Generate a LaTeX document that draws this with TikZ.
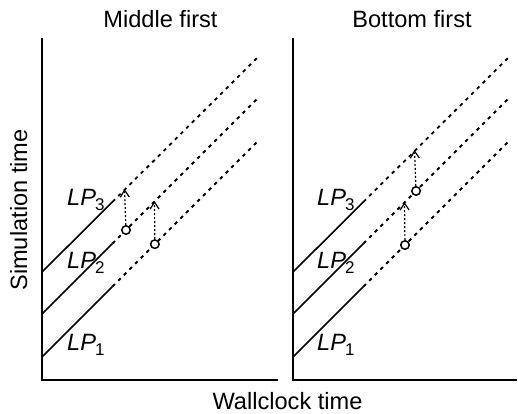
\documentclass[tikz,border=0pt]{standalone}
\usepackage{fontspec}
\setmainfont{Liberation Sans}
\usetikzlibrary{calc,arrows.meta}
\newcommand{\lpl}[1]{{\itshape LP}\kern-1pt\raisebox{-5pt}{\fontsize{17}{16}\selectfont #1}}
\begin{document}
\begin{tikzpicture}[x=1pt,y=-1pt,
  axis/.style={line width=1.3pt},
  solidlp/.style={line width=1.6pt},
  dashlp/.style={line width=1.8pt,dash pattern=on 3.5pt off 4.5pt},
  msg/.style={line width=1.2pt,dash pattern=on 2pt off 2pt,-{Straight Barb[length=7pt,width=9pt,line width=1.2pt]}},
  evt/.style={circle,draw,line width=1.5pt,inner sep=0pt,minimum size=8.5pt,fill=white},
  txt/.style={font=\fontsize{23.6}{28}\selectfont,inner sep=0pt},
  lab/.style={font=\fontsize{23.6}{28}\selectfont,inner sep=0pt,anchor=base west}]
\useasboundingbox (0,0) rectangle (518,413);
% axes
\coordinate (ltop) at (42,38); \coordinate (lorg) at (42,380); \coordinate (lright) at (278,380);
\coordinate (rtop) at (293,38); \coordinate (rorg) at (293,380); \coordinate (rright) at (517,380);
\draw[axis] (ltop) -- (lorg) -- (lright);
\draw[axis] (rtop) -- (rorg) -- (rright);
% left lines
\coordinate (a1) at (42,357); \coordinate (b1) at (259,140);
\coordinate (a2) at (42,314); \coordinate (b2) at (259,97);
\coordinate (a3) at (42,272); \coordinate (b3) at (259,56);
% right lines
\coordinate (c1) at (293,357); \coordinate (d1) at (510,140);
\coordinate (c2) at (293,314); \coordinate (d2) at (510,97);
\coordinate (c3) at (293,272); \coordinate (d3) at (510,56);
\foreach \i in {1,2,3}{
  \draw[solidlp] (a\i) -- ($(a\i)!0.325!(b\i)$) coordinate (m\i);
  \draw[dashlp] (m\i) -- (b\i);
  \draw[solidlp] (c\i) -- ($(c\i)!0.325!(d\i)$) coordinate (n\i);
  \draw[dashlp] (n\i) -- (d\i);
}
% events and messages, left (Middle first)
\node[evt] (e1) at ($(a2)!0.387!(b2)$) {};
\node[evt] (e2) at ($(a1)!0.52!(b1)$) {};
\coordinate (t1) at (124.5,189);
\coordinate (t2) at (154.5,201);
\draw[msg] (e1) -- (t1);
\draw[msg] (e2) -- (t2);
% events and messages, right (Bottom first)
\node[evt] (f1) at ($(c1)!0.516!(d1)$) {};
\node[evt] (f2) at ($(c2)!0.567!(d2)$) {};
\coordinate (u1) at (404.5,202);
\coordinate (u2) at (414.5,150);
\draw[msg] (f1) -- (u1);
\draw[msg] (f2) -- (u2);
% labels
\node[lab] (l3) at (67,205) {\lpl{3}};
\node[lab] (l2) at (67,268) {\lpl{2}};
\node[lab] (l1) at (67,350) {\lpl{1}};
\node[lab] (r3) at (317,205) {\lpl{3}};
\node[lab] (r2) at (317,268) {\lpl{2}};
\node[lab] (r1) at (317,350) {\lpl{1}};
\node[txt,anchor=base] (tl) at (160.5,27) {Middle first};
\node[txt,anchor=base] (tr) at (412,27) {Bottom first};
\node[txt,anchor=base] (xl) at (287.5,409) {Wallclock time};
\node[txt,anchor=base,rotate=90] (yl) at (27,210) {Simulation time};
\end{tikzpicture}
\end{document}
